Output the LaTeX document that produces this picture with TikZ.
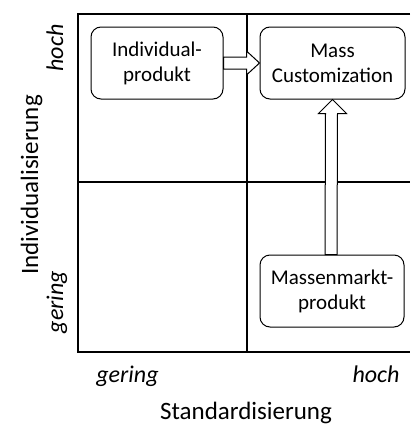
\documentclass[tikz,border=0pt]{standalone}
\usepackage{fontspec}
\setmainfont{Carlito}
\usetikzlibrary{calc}
\begin{document}
\begin{tikzpicture}[x=1pt,y=-1pt,
  grid/.style={line width=1.3pt},
  prodbox/.style={draw, line width=1pt, rounded corners=10pt, fill=white,
    minimum height=72pt, inner sep=0pt, align=center,
    font=\fontsize{21}{25}\selectfont},
  blockarrow/.style={draw, line width=1pt, fill=white},
  axislabel/.style={font=\fontsize{25}{30}\selectfont},
  levellabel/.style={font=\fontsize{24}{28}\selectfont\itshape}]
\useasboundingbox (0,0) rectangle (410,426);

% portfolio grid (open to the right)
\draw[grid] (410,14) -- (78,14) -- (78,352) -- (410,352);
\draw[grid] (247,14) -- (247,352);
\draw[grid] (78,182) -- (410,182);

% product types
\node[prodbox, minimum width=132pt] (ind) at (157,63) {Individual-\\produkt};
\node[prodbox, minimum width=145pt] (mc) at (332.5,63) {Mass\\Customization};
\node[prodbox, minimum width=144pt] (mm) at (332,291) {Massenmarkt-\\produkt};

% block arrows
\draw[blockarrow]
  ($(ind.east)+(0,-6)$) -- ($(mc.west)+(-13,-6)$) -- ($(mc.west)+(-13,-12)$)
  -- (mc.west) -- ($(mc.west)+(-13,12)$) -- ($(mc.west)+(-13,6)$)
  -- ($(ind.east)+(0,6)$) -- cycle;
\draw[blockarrow]
  ($(mm.north)+(-7,0)$) -- ($(mc.south)+(-7,14)$) -- ($(mc.south)+(-14,14)$)
  -- (mc.south) -- ($(mc.south)+(14,14)$) -- ($(mc.south)+(5,14)$)
  -- ($(mm.north)+(5,0)$) -- cycle;

% axis levels
\node[levellabel, rotate=90, anchor=base] (yhigh) at (63,48) {hoch};
\node[levellabel, rotate=90, anchor=base] (ylow) at (63,302) {gering};
\node[levellabel, anchor=base] (xlow) at (127.5,382) {gering};
\node[levellabel, anchor=base] (xhigh) at (376,382) {hoch};

% axis titles
\node[axislabel, rotate=90, anchor=base] (ytitle) at (38,185) {Individualisierung};
\node[axislabel, anchor=base] (xtitle) at (246,419) {Standardisierung};
\end{tikzpicture}
\end{document}
